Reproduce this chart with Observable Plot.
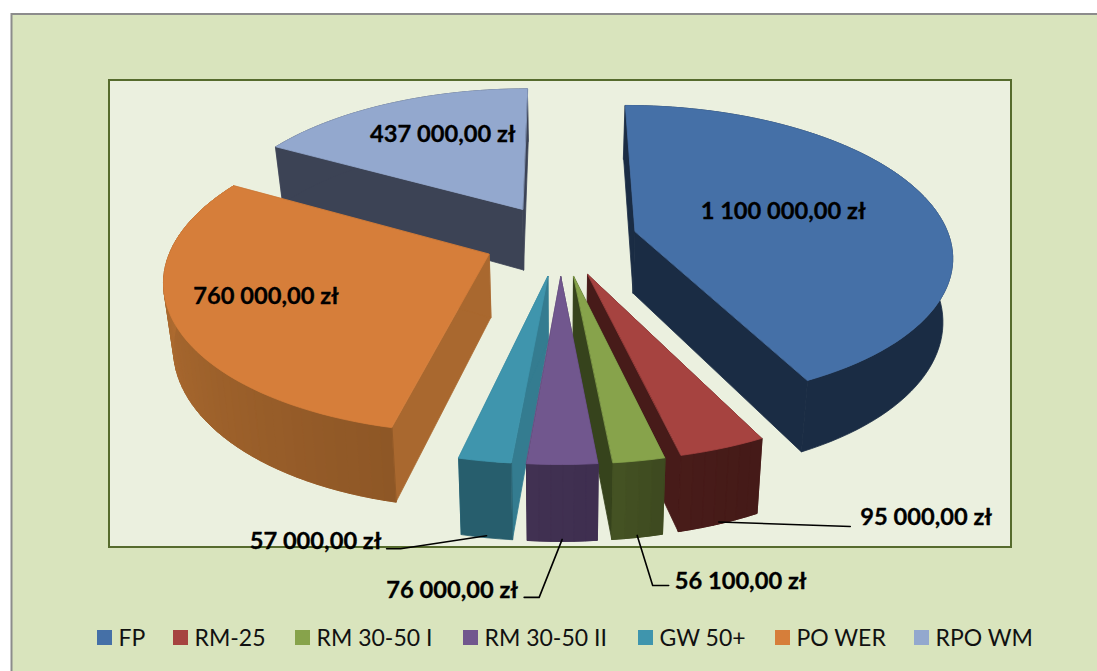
<!DOCTYPE html>
<html><head><meta charset="utf-8">
<script src="https://cdn.jsdelivr.net/npm/d3@7"></script>
<script src="https://cdn.jsdelivr.net/npm/@observablehq/plot@0.6"></script>
<style>html,body{margin:0;padding:0;background:#fff;overflow:hidden}svg{display:block}</style>
</head><body><div id="chart"></div>
<script>
const names = ["FP","RM-25","RM 30-50 I","RM 30-50 II","GW 50+","PO WER","RPO WM"];
const values = [1100000,95000,56100,76000,57000,760000,437000];
const topColors = ["#4570A7","#A64340","#87A34B","#71578E","#3F95AD","#D67E3A","#93A8CE"];
const wallFrom = ["#1A2C44","#481C19","#465424","#413152","#275E6D","#BC7535","#3C4355"];
const wallTo = ["#1A2C44","#451A18","#3E4A20","#3F2F50","#275E6D","#8E5726","#3C4355"];
const cutColors = ["#1A2C44","#471B19","#36431C","#3F3050","#347C90","#A9682F","#3C4355"];
const drawOrder = [6,0,5,1,2,4,3];
const legendX = [97,173,295,463,638,775,914];

// projection parameters of the tilted, exploded pie
const P = {cx:560, cy:239, c:315, b:147, k:0.15, e:0.245, d:62.5, shrink:0.975};
const total = d3.sum(values);
const toAngle = v => v / total * 2 * Math.PI;
let acc = 0;
const slices = values.map((v,i) => { const a0 = acc; acc += toAngle(v); return {i, a0, a1:acc, mid:(a0+acc)/2}; });

function project(s, r, a, bottom) {
  const X = r*Math.sin(a) + P.e*Math.sin(s.mid);
  const Y = r*Math.cos(a) + P.e*Math.cos(s.mid);
  const w = 1 + P.k*Y;
  let x = P.cx + P.c*X/w, y = P.cy - P.b*Y/w;
  if (bottom) { x = P.cx + (x-P.cx)*P.shrink; y += P.d/w; }
  return {x, y};
}
function arcAngles(s) {
  const n = Math.max(2, Math.ceil((s.a1-s.a0)/(Math.PI/90)));
  return d3.range(n+1).map(j => s.a0 + (s.a1-s.a0)*j/n);
}
const vertices = [];
function face(id, color, pts){ pts.forEach(p => vertices.push({x:p.x,y:p.y,face:id,color})); }

drawOrder.forEach(i => {
  const s = slices[i], as = arcAngles(s);
  // radial cut faces
  [s.a0, s.a1].forEach((a,n) => face(`cut${i}-${n}`, cutColors[i], [
    project(s,0,a,false), project(s,1,a,false), project(s,1,a,true), project(s,0,a,true)]));
  // outer wall: one solid base, then shading only where the colour really runs along the arc
  const shade = d3.interpolateRgb(wallFrom[i], wallTo[i]);
  face(`wallbase${i}`, shade(0.5), [
    ...as.map(a => project(s,1,a,false)),
    ...as.slice().reverse().map(a => project(s,1,a,true))]);
  if (wallFrom[i] !== wallTo[i]) {
    const maxA = as.length-1;
    for (let j=0;j<maxA;j++) {
      const c = shade(1 - j/maxA);
      face(`wall${i}-${j}`, c, [
        project(s,1,as[j],false), project(s,1,as[j+1],false),
        project(s,1,as[j+1],true), project(s,1,as[j],true)]);
    }
  }
  // top
  face(`top${i}`, topColors[i], [project(s,0,0,false), ...as.map(a => project(s,1,a,false))]);
});

const fmt = d3.formatLocale({decimal:",",thousands:"\u00a0",grouping:[3]}).format(",.2f");
const labelOf = i => fmt(values[i]) + " zł";

// annotation placement, relative to an anchor computed on the slice
const insideOffsets = {0:[-29,0], 5:[-38,4], 6:[4,-9]};
const leaderLift = 2;
const outside = {
  1:{leader:[[131.5,4.6]], label:[141.5,-4.4], anchor:"start"},
  2:{leader:[[15.5,50],[31.5,50]], label:[37.5,46], anchor:"start"},
  3:{leader:[[-23,58],[-38,58]], label:[-44,51], anchor:"end"},
  4:{leader:[[-86,13],[-100,13]], label:[-105,6], anchor:"end"}
};
const labels = [];
Object.entries(insideOffsets).forEach(([i,o]) => {
  const s = slices[+i], p = project(s,0.6,s.mid,false);
  labels.push({x:p.x+o[0], y:p.y+o[1], text:labelOf(+i), anchor:"middle"});
});
const leaderPts = [];
Object.entries(outside).forEach(([i,o]) => {
  const s = slices[+i], p = project(s,1,s.mid,true);
  p.y -= leaderLift;
  leaderPts.push({x:p.x,y:p.y,id:i});
  o.leader.forEach(d => leaderPts.push({x:p.x+d[0],y:p.y+d[1],id:i}));
  labels.push({x:p.x+o.label[0], y:p.y+o.label[1], text:labelOf(+i), anchor:o.anchor});
});

const legend = names.map((n,i) => ({name:n, color:topColors[i], x:legendX[i]}));
const font = "Lato, 'Open Sans', sans-serif";
const frame = [{x1:11.5,x2:1110,y1:14,y2:700}];
const inner = [{x1:109,x2:1011,y1:80,y2:547}];
const labelMark = anchor => Plot.text(labels.filter(d => d.anchor === anchor),{
  x:"x",y:"y",text:"text",textAnchor:anchor,fontSize:23.7,fontWeight:"bold",
  fill:"#000",stroke:"#000",strokeWidth:0.3,fontFamily:font});

const chart = Plot.plot({
  width:1097, height:671, margin:0,
  x:{domain:[0,1097], range:[0,1097], axis:null},
  y:{domain:[0,671], range:[0,671], axis:null},
  style:{background:"#fff", fontFamily:font},
  marks:[
    Plot.rect(frame,{x1:"x1",x2:"x2",y1:"y1",y2:"y2",fill:"#D9E4BD",stroke:"#8C8C8C",strokeWidth:2}),
    Plot.rect(inner,{x1:"x1",x2:"x2",y1:"y1",y2:"y2",fill:"#EBF0DF",stroke:"#566B2D",strokeWidth:2}),
    Plot.line(vertices,{x:"x",y:"y",z:"face",fill:"color",stroke:"color",strokeWidth:0.8,curve:"linear-closed"}),
    Plot.line(leaderPts,{x:"x",y:"y",z:"id",stroke:"#000",strokeWidth:1.6}),
    labelMark("middle"), labelMark("start"), labelMark("end"),
    Plot.rect(legend,{x1:"x",x2:d=>d.x+15,y1:()=>630,y2:()=>645,fill:"color"}),
    Plot.text(legend,{x:d=>d.x+21,y:()=>638,text:"name",textAnchor:"start",fontSize:23,fill:"#111",fontFamily:font})
  ]
});
document.getElementById("chart").appendChild(chart);
</script>
</body></html>
